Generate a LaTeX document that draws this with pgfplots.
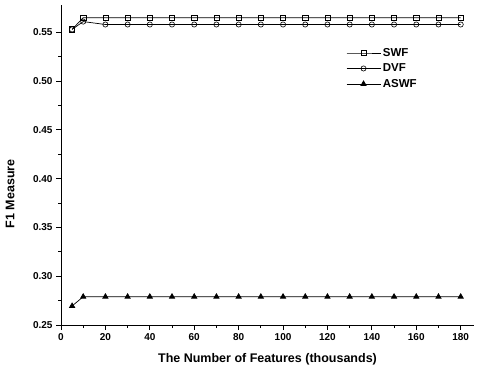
\documentclass[border=0pt]{standalone}
\usepackage{fontspec}
\setmainfont{Liberation Sans}
\usepackage{pgfplots}
\pgfplotsset{compat=1.18}
\begin{document}
\begin{tikzpicture}
\begin{axis}[
  scale only axis,
  width=413pt, height=320pt,
  xmin=0, xmax=186, ymin=0.25, ymax=0.578,
  axis x line*=bottom, axis y line*=left,
  axis line style={line width=1pt, -},
  xtick={0,20,...,180},
  ytick={0.25,0.30,...,0.56},
  minor x tick num=1, minor y tick num=1,
  tick align=outside,
  major tick length=5pt, minor tick length=3pt,
  tick style={black, line width=0.9pt},
  /pgf/number format/assume math mode=true,
  yticklabel style={/pgf/number format/fixed, /pgf/number format/fixed zerofill, /pgf/number format/precision=2},
  ticklabel style={font=\bfseries\fontsize{10}{11}\selectfont},
  scaled y ticks=false,
  xlabel={The Number of Features (thousands)},
  ylabel={F1 Measure},
  label style={font=\bfseries\fontsize{12.5}{14}\selectfont},
  xlabel style={at={(axis description cs:0.5,-0.078)}, anchor=north},
  ylabel style={at={(axis description cs:-0.104,0.41)}},
  legend style={draw=none, fill=none, at={(0.69,0.878)}, anchor=north west,
    font=\bfseries\fontsize{11.5}{13}\selectfont, row sep=2pt, inner xsep=0pt},
  legend cell align=left,
  legend image code/.code={\draw[mark repeat=2,mark phase=2] plot coordinates {(0pt,0pt) (17pt,0pt) (34pt,0pt)};},
  every axis plot/.append style={black, line width=0.7pt},
]
\addplot[mark=square, mark size=2.6pt, mark options={solid, line width=0.6pt}] coordinates {
(5,0.553) (10,0.565) (20,0.565) (30,0.565) (40,0.565) (50,0.565) (60,0.565) (70,0.565) (80,0.565) (90,0.565) (100,0.565) (110,0.565) (120,0.565) (130,0.565) (140,0.565) (150,0.565) (160,0.565) (170,0.565) (180,0.565)};
\addlegendentry{SWF}
\addplot[mark=o, mark size=2.6pt, mark options={solid, line width=0.6pt}] coordinates {
(5,0.553) (10,0.561) (20,0.558) (30,0.558) (40,0.558) (50,0.558) (60,0.558) (70,0.558) (80,0.558) (90,0.558) (100,0.558) (110,0.558) (120,0.558) (130,0.558) (140,0.558) (150,0.558) (160,0.558) (170,0.558) (180,0.558)};
\addlegendentry{DVF}
\addplot[mark=triangle*, mark size=3pt, mark options={solid}] coordinates {
(5,0.2695) (10,0.279) (20,0.279) (30,0.279) (40,0.279) (50,0.279) (60,0.279) (70,0.279) (80,0.279) (90,0.279) (100,0.279) (110,0.279) (120,0.279) (130,0.279) (140,0.279) (150,0.279) (160,0.279) (170,0.279) (180,0.279)};
\addlegendentry{ASWF}
\end{axis}
\pgfresetboundingbox
\path (current axis.south west) ++(-61pt,-43pt) coordinate (bl);
\path (current axis.north east) ++(6pt,5pt) coordinate (tr);
\useasboundingbox (bl) rectangle (tr);
\end{tikzpicture}
\end{document}
